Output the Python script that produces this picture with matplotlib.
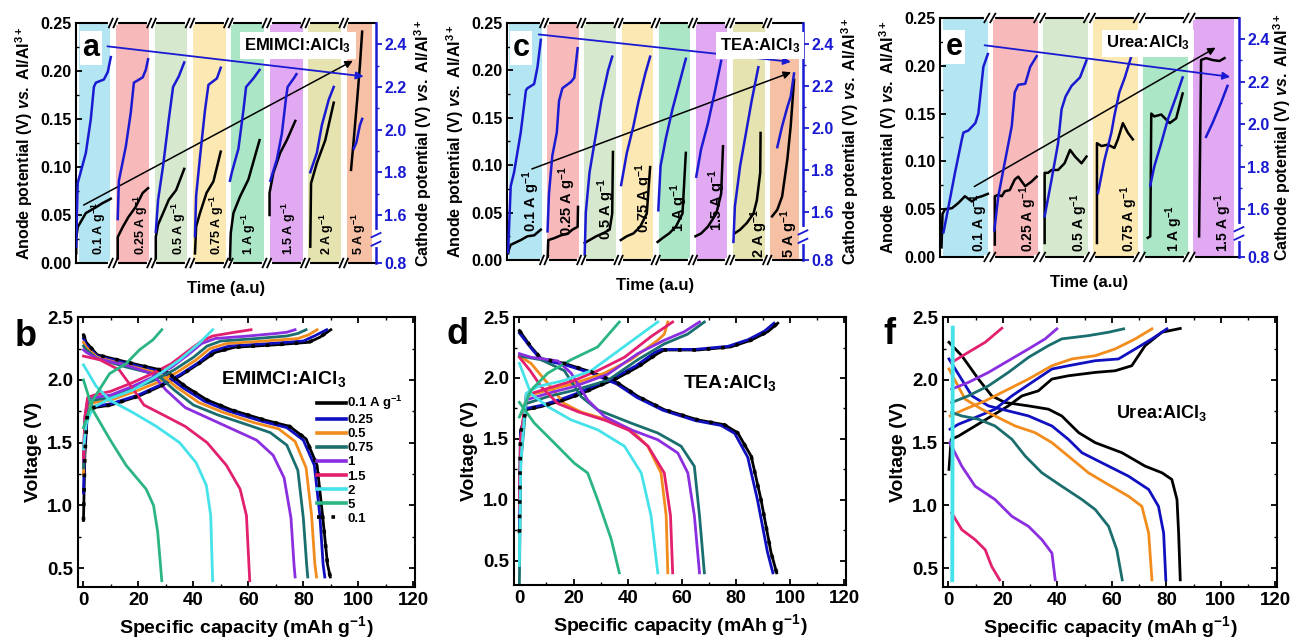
import numpy as np
import matplotlib
matplotlib.use("Agg")
import matplotlib.pyplot as plt
from matplotlib.ticker import MultipleLocator, FixedLocator

# =================================
# FONTS
# =================================
plt.rcParams["font.family"] = "Liberation Sans"
plt.rcParams["font.weight"] = "bold"
plt.rcParams["axes.labelweight"] = "bold"
plt.rcParams["mathtext.fontset"] = "custom"
plt.rcParams["mathtext.rm"] = "Liberation Sans:bold"
plt.rcParams["mathtext.it"] = "Liberation Sans:italic:bold"
plt.rcParams["mathtext.bf"] = "Liberation Sans:bold"
plt.rcParams["axes.linewidth"] = 1.5

# =================================
# TOP ROW DATA (time segments, x = fraction inside segment)
# =================================
a_rates = ["0.1", "0.25", "0.5", "0.75", "1", "1.5", "2", "5"]
a_blue_x = [
    [0.04, 0.08, 0.29, 0.42, 0.50, 0.55, 0.76, 0.86, 0.94],
    [0.12, 0.15, 0.33, 0.46, 0.54, 0.77, 0.85, 0.91],
    [0.11, 0.17, 0.30, 0.45, 0.56, 0.71, 0.85],
    [0.13, 0.16, 0.26, 0.39, 0.48, 0.70, 0.80],
    [0.04, 0.09, 0.26, 0.39, 0.46, 0.65, 0.81],
    [0.09, 0.26, 0.39, 0.50, 0.54, 0.70, 0.77],
    [0.13, 0.30, 0.43, 0.61, 0.74],
    [0.26, 0.33, 0.42, 0.48],
]
a_blue_y = [
    [1.45, 1.75, 1.89, 2.05, 2.20, 2.22, 2.235, 2.27, 2.34],
    [1.58, 1.76, 1.92, 2.08, 2.22, 2.245, 2.28, 2.33],
    [1.52, 1.67, 1.83, 2.05, 2.20, 2.25, 2.315],
    [1.50, 1.69, 1.87, 2.09, 2.21, 2.24, 2.29],
    [1.76, 1.80, 1.91, 2.09, 2.20, 2.24, 2.28],
    [1.76, 1.86, 1.98, 2.15, 2.20, 2.24, 2.26],
    [1.80, 1.89, 2.02, 2.14, 2.20],
    [1.91, 1.94, 2.02, 2.05],
]
a_black_x = [
    [0.04, 0.04, 0.08, 0.29, 0.55, 0.73, 0.90, 0.94],
    [0.12, 0.12, 0.25, 0.40, 0.58, 0.77, 0.91],
    [0.11, 0.11, 0.17, 0.30, 0.45, 0.64, 0.85],
    [0.13, 0.16, 0.26, 0.43, 0.61, 0.80],
    [0.04, 0.06, 0.13, 0.30, 0.52, 0.81],
    [0.07, 0.07, 0.17, 0.35, 0.52, 0.74],
    [0.13, 0.15, 0.30, 0.52, 0.74],
    [0.19, 0.26, 0.35, 0.42, 0.48],
]
a_black_y = [
    [0.010, 0.025, 0.0375, 0.052, 0.058, 0.0625, 0.066, 0.067],
    [0.005, 0.027, 0.0375, 0.048, 0.058, 0.073, 0.078],
    [0.005, 0.027, 0.040, 0.052, 0.066, 0.076, 0.098],
    [0.010, 0.038, 0.052, 0.073, 0.085, 0.116],
    [0.003, 0.031, 0.052, 0.069, 0.087, 0.128],
    [0.050, 0.073, 0.094, 0.115, 0.128, 0.148],
    [0.017, 0.083, 0.104, 0.128, 0.167],
    [0.097, 0.128, 0.170, 0.205, 0.241],
]

c_rates = ["0.1", "0.25", "0.5", "0.75", "1", "1.5", "2", "5"]
c_blue_x = [
    [0.03, 0.10, 0.19, 0.37, 0.51, 0.55, 0.73, 0.82, 0.91],
    [0.09, 0.13, 0.22, 0.34, 0.40, 0.49, 0.72, 0.81, 0.90],
    [0.09, 0.12, 0.22, 0.40, 0.54, 0.72, 0.83],
    [0.07, 0.22, 0.40, 0.54, 0.72, 0.85],
    [0.07, 0.13, 0.27, 0.45, 0.63, 0.81],
    [0.09, 0.22, 0.40, 0.58, 0.76],
    [0.09, 0.13, 0.27, 0.40, 0.58, 0.76],
    [0.27, 0.40, 0.54, 0.63, 0.72],
]
c_blue_y = [
    [1.41, 1.725, 1.79, 1.98, 2.18, 2.19, 2.21, 2.29, 2.42],
    [1.51, 1.69, 1.87, 1.98, 2.13, 2.19, 2.22, 2.24, 2.38],
    [1.40, 1.60, 1.79, 1.98, 2.13, 2.275, 2.34],
    [1.73, 1.88, 2.01, 2.13, 2.26, 2.34],
    [1.61, 1.82, 1.95, 2.09, 2.21, 2.33],
    [1.77, 1.90, 2.02, 2.165, 2.32],
    [1.46, 1.63, 1.82, 1.95, 2.13, 2.29],
    [1.91, 2.01, 2.10, 2.15, 2.26],
]
c_black_x = [
    [0.03, 0.06, 0.10, 0.37, 0.55, 0.73, 0.91],
    [0.09, 0.11, 0.27, 0.45, 0.64, 0.76, 0.90, 0.91],
    [0.09, 0.22, 0.40, 0.58, 0.76, 0.83, 0.85],
    [0.06, 0.22, 0.40, 0.58, 0.76, 0.85],
    [0.05, 0.18, 0.36, 0.54, 0.72, 0.81],
    [0.07, 0.22, 0.40, 0.63, 0.76, 0.81],
    [0.12, 0.27, 0.45, 0.63, 0.72, 0.81, 0.82],
    [0.13, 0.27, 0.40, 0.54, 0.63, 0.72],
]
c_black_y = [
    [0.007, 0.012, 0.016, 0.021, 0.025, 0.026, 0.032],
    [0.0, 0.021, 0.023, 0.026, 0.028, 0.032, 0.035, 0.056],
    [0.018, 0.021, 0.025, 0.028, 0.032, 0.049, 0.114],
    [0.021, 0.025, 0.028, 0.035, 0.049, 0.098],
    [0.019, 0.023, 0.028, 0.035, 0.049, 0.113],
    [0.025, 0.028, 0.035, 0.049, 0.070, 0.120],
    [0.028, 0.032, 0.039, 0.049, 0.063, 0.092, 0.134],
    [0.046, 0.053, 0.067, 0.106, 0.141, 0.190],
]

e_rates = ["0.1", "0.25", "0.5", "0.75", "1", "1.5"]
e_blue_x = [
    [0.07, 0.17, 0.30, 0.44, 0.47, 0.57, 0.71, 0.77, 0.87, 0.96],
    [0.09, 0.17, 0.30, 0.44, 0.50, 0.57, 0.71, 0.81, 0.94],
    [0.10, 0.24, 0.37, 0.44, 0.52, 0.64, 0.81, 0.94],
    [0.17, 0.30, 0.44, 0.50, 0.60, 0.71, 0.84],
    [0.22, 0.30, 0.44, 0.57, 0.74, 0.87],
    [0.34, 0.47, 0.64, 0.77],
]
e_blue_y = [
    [1.49, 1.61, 1.77, 1.93, 1.96, 1.97, 2.005, 2.05, 2.27, 2.33],
    [1.50, 1.66, 1.82, 1.99, 2.15, 2.185, 2.19, 2.27, 2.32],
    [1.565, 1.74, 1.91, 2.07, 2.13, 2.18, 2.22, 2.30],
    [1.675, 1.83, 1.96, 2.04, 2.15, 2.22, 2.32],
    [1.71, 1.80, 1.91, 2.02, 2.13, 2.22],
    [1.94, 2.005, 2.10, 2.18],
]
e_black_x = [
    [0.03, 0.05, 0.10, 0.24, 0.37, 0.50, 0.64, 0.74, 0.84, 0.96],
    [0.10, 0.10, 0.17, 0.24, 0.30, 0.40, 0.50, 0.57, 0.71, 0.84, 0.94],
    [0.10, 0.10, 0.17, 0.24, 0.37, 0.50, 0.61, 0.71, 0.84, 0.94],
    [0.15, 0.15, 0.24, 0.37, 0.50, 0.57, 0.67, 0.77, 0.87],
    [0.17, 0.22, 0.24, 0.30, 0.44, 0.61, 0.74, 0.87],
    [0.20, 0.24, 0.34, 0.47, 0.61, 0.71],
]
e_black_y = [
    [0.010, 0.045, 0.050, 0.051, 0.0565, 0.0635, 0.058, 0.062, 0.0635, 0.066],
    [0.013, 0.0635, 0.065, 0.0635, 0.0687, 0.070, 0.081, 0.084, 0.074, 0.079, 0.084],
    [0.0146, 0.088, 0.088, 0.091, 0.091, 0.098, 0.112, 0.105, 0.098, 0.105],
    [0.0146, 0.119, 0.116, 0.1175, 0.114, 0.123, 0.140, 0.130, 0.123],
    [0.020, 0.0216, 0.150, 0.147, 0.149, 0.140, 0.145, 0.171],
    [0.0216, 0.206, 0.208, 0.206, 0.205, 0.208],
]

band_colors = ["#b3e5f2", "#f8b9bb", "#d6e8cd", "#fbe8b2",
               "#abe6c6", "#e2a9f3", "#e5e3b0", "#f6c0a5"]

# the broken cathode axis: its bottom ("0.8") sits at this axis value
cathode_floor = 1.374

# =================================
# BOTTOM ROW DATA (capacity mAh/g, voltage V)
# order: 0.1, 0.25, 0.5, 0.75, 1, 1.5, 2, 5 A/g
# =================================
b_legend = ["0.1 A g$^{-1}$", "0.25", "0.5", "0.75", "1", "1.5", "2", "5", "0.1"]
b_dis_cap = [
    [0, 1, 5, 18, 30, 37, 45, 54, 66, 75, 81, 85, 87, 88.8, 89.8],
    [0, 1, 5, 18, 29, 36, 44, 53, 65, 74, 80, 84, 86, 87.2, 87.8],
    [0, 1, 5, 17, 28, 34, 42, 51, 62, 71, 77, 81, 83, 84.2, 84.8],
    [0, 1, 5, 16, 27, 33, 40, 49, 60, 68, 74, 78, 80, 81.2, 81.6],
    [0, 1, 5, 15, 25, 30, 37, 45, 55, 63, 69, 73, 75.5, 76.6, 77],
    [0, 6, 13, 18, 22, 30, 37, 45, 52, 57, 59.3, 60.5],
    [0, 4.6, 9.5, 18, 26.5, 35, 41, 44.7, 46.3, 47],
    [0, 3.4, 9.5, 15.5, 22.8, 25.5, 27, 28.5],
]
b_dis_v = [
    [2.36, 2.30, 2.20, 2.13, 2.07, 1.95, 1.84, 1.76, 1.68, 1.63, 1.53, 1.32, 0.92, 0.53, 0.43],
    [2.33, 2.28, 2.19, 2.12, 2.06, 1.94, 1.83, 1.75, 1.67, 1.62, 1.52, 1.32, 0.92, 0.53, 0.43],
    [2.30, 2.26, 2.18, 2.11, 2.05, 1.94, 1.82, 1.74, 1.66, 1.61, 1.51, 1.30, 0.92, 0.53, 0.43],
    [2.27, 2.24, 2.17, 2.10, 2.04, 1.92, 1.80, 1.72, 1.64, 1.58, 1.48, 1.28, 0.90, 0.53, 0.43],
    [2.24, 2.22, 2.17, 2.12, 2.05, 1.92, 1.78, 1.70, 1.60, 1.52, 1.40, 1.22, 0.90, 0.53, 0.43],
    [2.19, 2.16, 2.08, 1.93, 1.80, 1.71, 1.63, 1.50, 1.32, 1.13, 0.92, 0.40],
    [2.12, 1.95, 1.84, 1.74, 1.63, 1.50, 1.34, 1.16, 0.92, 0.40],
    [2.00, 1.76, 1.53, 1.32, 1.13, 1.00, 0.79, 0.40],
]
b_chg_cap = [
    [0, 0.5, 1.5, 4, 10, 20, 28, 35, 42, 48, 55, 70, 82, 86, 90],
    [0, 0.5, 1.5, 4, 10, 20, 28, 35, 42, 47, 53, 68, 80, 84, 88.5],
    [0, 0.5, 1.5, 4, 10, 19, 27, 34, 41, 46, 52, 66, 78, 82, 85],
    [0, 0.5, 1.5, 4, 10, 18, 26, 33, 40, 45, 50, 63, 74, 78, 81],
    [0, 0.5, 1.5, 4, 10, 18, 25, 32, 38, 43, 48, 60, 70, 74, 77],
    [0, 0.5, 1.5, 4, 10, 18, 25, 32, 38, 43, 47, 55, 61],
    [0, 1, 3.4, 9.5, 18, 26.5, 35, 42, 47],
    [0, 3.4, 9.5, 15.5, 20.4, 25.3, 28.5],
]
b_chg_v = [
    [0.88, 1.40, 1.76, 1.78, 1.80, 1.87, 1.95, 2.03, 2.13, 2.22, 2.26, 2.28, 2.30, 2.34, 2.40],
    [1.10, 1.50, 1.77, 1.79, 1.81, 1.88, 1.96, 2.04, 2.14, 2.23, 2.27, 2.29, 2.31, 2.35, 2.40],
    [1.25, 1.60, 1.80, 1.82, 1.84, 1.91, 1.98, 2.06, 2.16, 2.25, 2.29, 2.31, 2.33, 2.36, 2.40],
    [1.30, 1.65, 1.82, 1.84, 1.86, 1.93, 2.00, 2.08, 2.18, 2.27, 2.31, 2.33, 2.35, 2.37, 2.40],
    [1.35, 1.70, 1.84, 1.86, 1.88, 1.95, 2.02, 2.10, 2.20, 2.29, 2.33, 2.35, 2.37, 2.38, 2.40],
    [1.38, 1.70, 1.86, 1.88, 1.91, 1.98, 2.05, 2.13, 2.23, 2.31, 2.35, 2.38, 2.40],
    [1.45, 1.65, 1.78, 1.85, 1.92, 2.03, 2.16, 2.29, 2.40],
    [1.62, 1.84, 2.05, 2.13, 2.24, 2.32, 2.40],
]

d_dis_cap = [
    [0, 4.3, 8, 16.6, 26.5, 36.3, 43.7, 53.5, 65.9, 75.7, 80.6, 85.6, 89.2, 92.9, 95],
    [0, 4.3, 8, 16.6, 26.5, 36, 43.4, 53, 65, 74.5, 79.5, 84.3, 87.9, 91.6, 93.6],
    [0, 4.3, 10.5, 16.6, 22.8, 32.6, 41.2, 47.4, 52.3, 54.2, 54.8],
    [0, 8, 16.6, 22.8, 28.9, 41.2, 51.1, 59.7, 64.6, 66.5, 68.3],
    [0, 4.3, 14.2, 19.1, 25.2, 31.4, 41.2, 51.1, 58.5, 62.2, 64.6, 66.5],
    [0, 4, 8, 14.2, 22, 32, 40.5, 47.5, 53.5, 55.8, 56.6],
    [0, 4.3, 10.5, 19.1, 28.9, 38.8, 45, 48.6, 51.1],
    [0, 5.5, 12.9, 20.3, 25.2, 28.9, 33.9, 36.9],
]
d_dis_v = [
    [2.39, 2.255, 2.16, 2.12, 2.05, 1.96, 1.85, 1.74, 1.656, 1.616, 1.55, 1.357, 1.003, 0.568, 0.40],
    [2.37, 2.245, 2.15, 2.11, 2.04, 1.95, 1.84, 1.735, 1.65, 1.61, 1.545, 1.35, 1.00, 0.57, 0.40],
    [2.18, 2.12, 1.955, 1.79, 1.72, 1.656, 1.575, 1.44, 1.22, 0.87, 0.40],
    [2.18, 2.15, 2.06, 1.847, 1.738, 1.63, 1.548, 1.44, 1.275, 0.87, 0.40],
    [2.20, 2.17, 2.14, 2.04, 1.82, 1.684, 1.575, 1.493, 1.384, 1.22, 0.87, 0.40],
    [2.17, 2.06, 1.93, 1.79, 1.72, 1.65, 1.57, 1.44, 1.22, 0.87, 0.40],
    [2.12, 1.87, 1.765, 1.656, 1.575, 1.44, 1.22, 0.87, 0.40],
    [1.80, 1.63, 1.466, 1.30, 1.22, 1.00, 0.677, 0.40],
]
d_chg_cap = [
    [0, 0.4, 2.5, 8, 16.6, 22.8, 28.9, 36.3, 43.7, 51, 53.5, 65.9, 78, 85.5, 91.7, 95.4],
    [0, 0.4, 2.5, 8, 16, 22, 28, 35.5, 43, 50, 52.5, 65, 77, 84.5, 90.5, 94],
    [0, 0.5, 2.5, 10.5, 20.3, 31.4, 41.2, 51.1, 53.5, 54.8],
    [0, 0.5, 2.5, 10.5, 20.3, 32.6, 43.7, 53.5, 62.1, 68.3],
    [0, 0.5, 2.5, 10.5, 20.3, 32.6, 43.7, 53.5, 60.9, 66.5],
    [0, 0.5, 2.5, 10.5, 20.3, 28.9, 38.8, 48.6, 56.6],
    [0, 0.5, 2.5, 6.8, 16.6, 26.5, 35.1, 43.7, 51.1],
    [0, 4.3, 10.5, 19.1, 28.9, 36.9],
]
d_chg_v = [
    [0.73, 1.55, 1.74, 1.765, 1.82, 1.87, 1.93, 2.00, 2.09, 2.20, 2.23, 2.23, 2.255, 2.31, 2.38, 2.45],
    [0.80, 1.55, 1.75, 1.775, 1.83, 1.88, 1.94, 2.01, 2.10, 2.21, 2.235, 2.235, 2.26, 2.315, 2.385, 2.45],
    [0.90, 1.50, 1.85, 1.90, 1.955, 2.04, 2.15, 2.31, 2.36, 2.46],
    [0.32, 1.30, 1.79, 1.847, 1.90, 1.98, 2.15, 2.28, 2.36, 2.46],
    [0.85, 1.50, 1.82, 1.874, 1.93, 2.03, 2.20, 2.31, 2.38, 2.46],
    [0.95, 1.50, 1.86, 1.915, 1.98, 2.06, 2.17, 2.34, 2.46],
    [0.46, 1.30, 1.874, 1.93, 1.98, 2.06, 2.20, 2.34, 2.46],
    [1.68, 1.90, 2.04, 2.15, 2.255, 2.46],
]

# f: 0.1 ... 2 A/g (no 5 A/g curve)
f_dis_cap = [
    [0.2, 4.9, 11, 15.9, 20.8, 29.4, 36.7, 41.6, 47.8, 53.9, 63.7, 72.2, 78.4, 82, 83.9, 84.5, 85.1],
    [0.2, 8.6, 14.7, 22, 29.4, 38, 44, 49, 56.3, 66.1, 73.5, 77.1, 79, 79.8],
    [0.2, 6.1, 12.2, 17.1, 24.5, 31.8, 38, 44, 51.4, 57.6, 66.1, 71, 73.5, 74.7],
    [1.2, 4.9, 11, 17.1, 23.3, 28.2, 34.3, 41.6, 49, 53.9, 58.8, 61.8, 63.8],
    [0.5, 4.9, 9.8, 17.1, 23.3, 29.4, 34.3, 38, 39.2],
    [1.2, 4.9, 9.8, 13.5, 15.9, 18.8],
    [1.8, 1.6],
]
f_dis_v = [
    [2.30, 2.193, 2.007, 1.873, 1.82, 1.793, 1.767, 1.713, 1.58, 1.50, 1.42, 1.313, 1.26, 1.207, 1.047, 0.78, 0.407],
    [2.167, 1.873, 1.793, 1.753, 1.713, 1.633, 1.527, 1.42, 1.34, 1.233, 1.127, 0.993, 0.78, 0.407],
    [2.087, 1.847, 1.767, 1.713, 1.633, 1.58, 1.50, 1.393, 1.26, 1.18, 1.073, 0.993, 0.78, 0.407],
    [1.74, 1.713, 1.687, 1.633, 1.527, 1.393, 1.26, 1.153, 1.047, 0.967, 0.833, 0.647, 0.407],
    [1.50, 1.313, 1.153, 1.047, 0.913, 0.833, 0.727, 0.62, 0.407],
    [0.94, 0.807, 0.727, 0.647, 0.513, 0.407],
    [2.42, 0.40],
]
f_chg_cap = [
    [0.2, 1.0, 3.7, 9.8, 15.9, 22, 27, 33, 38, 44, 53.9, 61.2, 67.3, 72.2, 78.4, 85.1],
    [0.6, 3.7, 9.8, 17.1, 23.3, 30.6, 38, 44, 53.9, 62.4, 68.6, 74.7, 80.2],
    [0.6, 6.1, 13.5, 20.8, 29.4, 38, 45.3, 53.9, 61.2, 68.6, 74.7],
    [1.2, 7.3, 14.7, 22, 29.4, 36.7, 41.6, 51.4, 58.8, 64.3],
    [1.2, 7.3, 14.7, 22, 29.4, 35.5, 39.8],
    [1.2, 7.3, 13.5, 19.6],
    [1.2, 1.4],
]
f_chg_v = [
    [1.287, 1.527, 1.553, 1.633, 1.713, 1.793, 1.873, 1.913, 2.007, 2.033, 2.06, 2.073, 2.113, 2.273, 2.38, 2.41],
    [1.607, 1.647, 1.70, 1.767, 1.873, 1.98, 2.087, 2.113, 2.153, 2.167, 2.247, 2.327, 2.407],
    [1.713, 1.767, 1.833, 1.913, 2.007, 2.113, 2.167, 2.193, 2.247, 2.327, 2.407],
    [1.82, 1.873, 1.953, 2.06, 2.18, 2.273, 2.327, 2.353, 2.38, 2.407],
    [1.927, 1.98, 2.06, 2.153, 2.247, 2.327, 2.407],
    [2.14, 2.22, 2.30, 2.412],
    [0.40, 2.42],
]

curve_colors = ["#000000", "#1010c0", "#f28c1c", "#1b6e6e",
                "#8a2ee0", "#e2206e", "#45e2ea", "#2ab582"]
blue_col = "#1a1ad2"


# =================================
# HELPERS
# =================================
def top_panel(ax, rates, bx, by, kx, ky, xlim, first_lo, band_lo, band_hi,
              band_tops, lab_x, lab_y, lab_va, lab_size, letter, letter_xy,
              title, title_xy, black_arrow, blue_arrow, rpad=4):
    axr = ax.twinx()
    nseg = len(rates)
    for i in range(nseg):
        lo = first_lo if i == 0 else i + band_lo
        hi = min(i + band_hi, xlim[1] - 0.1)
        ax.fill_between([lo, hi], 0, band_tops[i], color=band_colors[i],
                        lw=0, zorder=0)
    for i in range(nseg):
        ax.plot(i + np.array(kx[i]), ky[i], color="k", lw=1.8, zorder=3)
        axr.plot(i + np.array(bx[i]), by[i], color=blue_col, lw=1.8, zorder=3)
        ax.text(lab_x[i], lab_y[i], rates[i] + " A g$^{-1}$", rotation=90,
                ha="center", va=lab_va, fontsize=lab_size, zorder=4)

    ax.set_xlim(*xlim)
    ax.set_ylim(0, 0.25)
    axr.set_ylim(cathode_floor, 2.5)
    ax.set_xticks([])
    ax.yaxis.set_major_locator(MultipleLocator(0.05))
    ax.yaxis.set_minor_locator(MultipleLocator(0.025))
    ax.yaxis.set_major_formatter(plt.FormatStrFormatter("%.2f"))
    ax.tick_params(axis="y", direction="in", labelsize=11.5, width=1.3,
                   length=4, pad=3)
    ax.tick_params(axis="y", which="minor", direction="in", length=2.5, width=1)
    axr.set_yticks([cathode_floor, 1.6, 1.8, 2.0, 2.2, 2.4])
    axr.set_yticklabels(["0.8", "1.6", "1.8", "2.0", "2.2", "2.4"])
    axr.yaxis.set_minor_locator(FixedLocator([1.7, 1.9, 2.1, 2.3]))
    axr.tick_params(axis="y", direction="out", labelsize=11.5, colors=blue_col,
                    width=1.3, length=4, pad=2)
    axr.tick_params(axis="y", which="minor", direction="out", colors=blue_col,
                    length=2.5, width=1)
    ax.spines["right"].set_visible(False)
    for s in ["top", "bottom", "left"]:
        axr.spines[s].set_visible(False)
    axr.spines["right"].set_color(blue_col)
    axr.spines["right"].set_linewidth(1.8)

    ax.set_ylabel(r"Anode potential (V) $\it{vs.}$ Al/Al$^{3+}$", fontsize=11.5,
                  labelpad=4)
    axr.set_ylabel(r"Cathode potential (V) $\it{vs.}$ Al/Al$^{3+}$",
                   fontsize=11.5, labelpad=rpad)
    ax.set_xlabel("Time (a.u)", fontsize=12, labelpad=13)

    # axis breaks
    tr = axr.get_xaxis_transform()
    for b in range(1, nseg):
        for yb in (0, 1):
            axr.plot([b - 0.07, b + 0.07], [yb, yb], color="white", lw=3,
                     transform=tr, clip_on=False, zorder=6)
            for off in (-0.06, 0.06):
                axr.plot([b + off - 0.05, b + off + 0.05], [yb - 0.018, yb + 0.018],
                         color="k", lw=1.3, transform=tr, clip_on=False, zorder=7)
    tr2 = axr.get_yaxis_transform()
    axr.plot([1, 1], [1.46, 1.52], color="white", lw=3, transform=tr2,
             clip_on=False, zorder=6)
    for yb in (1.465, 1.505):
        axr.plot([0.985, 1.015], [yb - 0.01, yb + 0.01], color=blue_col, lw=1.3,
                 transform=tr2, clip_on=False, zorder=7)

    # arrows
    ax.annotate("", xy=black_arrow[1], xytext=black_arrow[0],
                arrowprops=dict(arrowstyle="-|>", color="k", lw=1.1,
                                mutation_scale=11), zorder=5)
    axr.annotate("", xy=blue_arrow[1], xytext=blue_arrow[0],
                 arrowprops=dict(arrowstyle="-|>", color=blue_col, lw=1.3,
                                 mutation_scale=11), zorder=5)

    axr.text(letter_xy[0], letter_xy[1], letter, transform=ax.transAxes,
             fontsize=22, ha="center", va="center", zorder=8,
             bbox=dict(fc="white", ec="none", pad=1.5))
    axr.text(title_xy[0], title_xy[1], title, transform=ax.transAxes,
             fontsize=12, ha="center", va="center", zorder=8,
             bbox=dict(fc="white", ec="none", pad=3))


def bottom_panel(ax, dcap, dv, ccap, cv, ymin, title, title_xy, title_size,
                 dotted=True):
    for i in range(len(dcap)):
        ax.plot(ccap[i], cv[i], color=curve_colors[i], lw=2.0)
        ax.plot(dcap[i], dv[i], color=curve_colors[i], lw=2.0)
    if dotted:
        ax.plot(ccap[0], cv[0], color="k", lw=2.6, ls=(0, (1, 3)))
        ax.plot(dcap[0], dv[0], color="k", lw=2.6, ls=(0, (1, 3)))
    ax.set_xlim(-2, 120.6)
    ax.set_ylim(ymin, 2.5)
    ax.xaxis.set_major_locator(MultipleLocator(20))
    ax.xaxis.set_minor_locator(MultipleLocator(10))
    ax.yaxis.set_major_locator(MultipleLocator(0.5))
    ax.yaxis.set_minor_locator(MultipleLocator(0.25))
    ax.tick_params(direction="in", top=True, right=True, labelsize=13.5,
                   width=1.3, length=4)
    ax.tick_params(which="minor", direction="in", top=True, right=True,
                   width=1, length=2.5)
    ax.set_xlabel("Specific capacity (mAh g$^{-1}$)", fontsize=14, labelpad=4)
    ax.set_ylabel("Voltage (V)", fontsize=14, labelpad=4)
    ax.text(title_xy[0], title_xy[1], title, transform=ax.transAxes,
            fontsize=title_size, ha="center", va="center")


# =================================
# FIGURE
# =================================
fig = plt.figure(figsize=(12.93, 6.44), dpi=100)

ax_a = fig.add_axes([0.0588, 0.5916, 0.2320, 0.3727])
ax_c = fig.add_axes([0.3921, 0.5963, 0.2289, 0.3680])
ax_e = fig.add_axes([0.7270, 0.6010, 0.2312, 0.3711])
ax_b = fig.add_axes([0.0603, 0.0885, 0.2606, 0.4190])
ax_d = fig.add_axes([0.3975, 0.0916, 0.2568, 0.4160])
ax_f = fig.add_axes([0.7293, 0.0885, 0.2583, 0.4190])

top_panel(ax_a, a_rates, a_blue_x, a_blue_y, a_black_x, a_black_y,
          (0.035, 7.84), 0.10, 0.08, 0.93, [0.25] * 8,
          [0.63, 1.71, 2.70, 3.71, 4.52, 5.58, 6.57, 7.39], [0.008] * 8,
          "bottom", 9, "a", (0.05, 0.895), "EMIMCl:AlCl$_3$", (0.74, 0.905),
          ((0.17, 0.059), (7.30, 0.212)), ((0.78, 2.392), (7.59, 2.248)))

top_panel(ax_c, c_rates, c_blue_x, c_blue_y, c_black_x, c_black_y,
          (0.0, 7.96), 0.06, 0.08, 0.93, [0.25] * 7 + [0.2165],
          [0.64, 1.63, 2.66, 3.69, 4.63, 5.66, 6.77, 7.58],
          [0.062, 0.062, 0.053, 0.065, 0.055, 0.063, 0.028, 0.028],
          "center", 10.5, "c", (0.047, 0.895), "TEA:AlCl$_3$", (0.855, 0.905),
          ((0.60, 0.095), (7.71, 0.199)), ((0.78, 2.447), (7.71, 2.314)))

top_panel(ax_e, e_rates, e_blue_x, e_blue_y, e_black_x, e_black_y,
          (0.0, 6.0), 0.07, 0.07, 0.97, [0.25] * 4 + [0.213, 0.25],
          [0.79, 1.78, 2.79, 3.80, 4.71, 5.68], [0.005] * 6,
          "bottom", 10, "e", (0.047, 0.88), "Urea:AlCl$_3$", (0.696, 0.895),
          ((0.64, 0.0722), (5.58, 0.2204)), ((0.84, 2.373), (5.88, 2.221)),
          rpad=1)

bottom_panel(ax_b, b_dis_cap, b_dis_v, b_chg_cap, b_chg_v, 0.35,
             "EMIMCl:AlCl$_3$", (0.61, 0.77), 14)
handles = [plt.Line2D([], [], color=c, lw=2.6) for c in curve_colors]
handles.append(plt.Line2D([], [], color="k", lw=2.6, ls=(0, (1, 3))))
ax_b.legend(handles, b_legend, loc="upper left", bbox_to_anchor=(0.69, 0.74),
            frameon=False, fontsize=9.5, handlelength=2.2, handletextpad=0.1,
            labelspacing=0.14, borderpad=0)

bottom_panel(ax_d, d_dis_cap, d_dis_v, d_chg_cap, d_chg_v, 0.30,
             "TEA:AlCl$_3$", (0.65, 0.754), 14)
bottom_panel(ax_f, f_dis_cap, f_dis_v, f_chg_cap, f_chg_v, 0.35,
             "Urea:AlCl$_3$", (0.653, 0.645), 13, dotted=False)

fig.text(0.020, 0.478, "b", fontsize=26, ha="center", va="center")
fig.text(0.354, 0.480, "d", fontsize=26, ha="center", va="center")
fig.text(0.688, 0.480, "f", fontsize=26, ha="center", va="center")

fig.savefig("out.png", dpi=100)
